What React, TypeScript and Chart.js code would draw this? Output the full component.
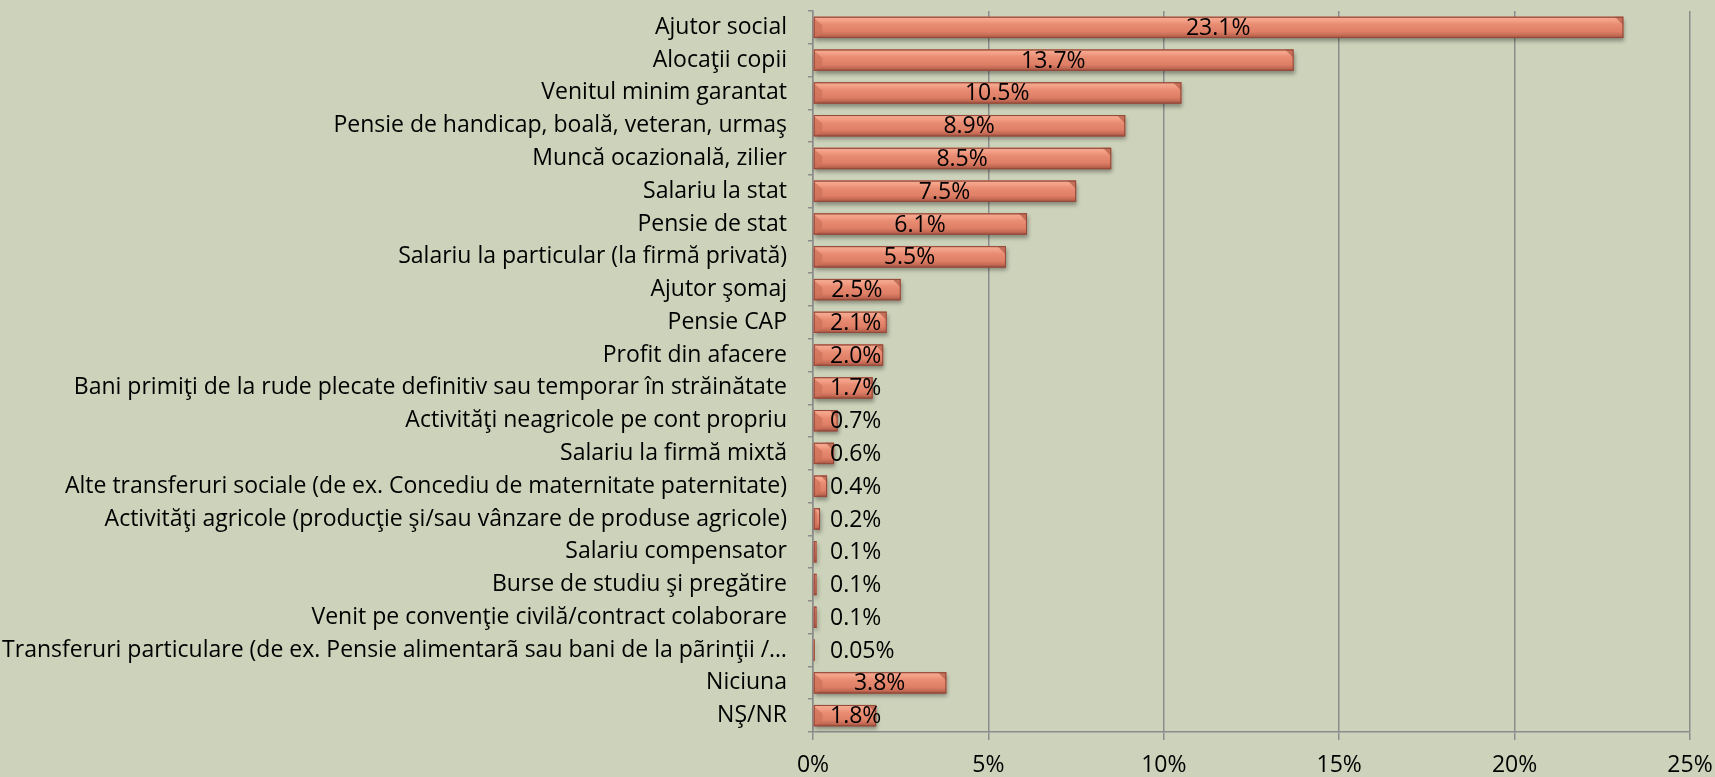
import React, { useEffect, useRef } from "react";
import { Chart, registerables } from "chart.js";

Chart.register(...registerables);

const categories: string[] = [
  "Ajutor social",
  "Alocaţii copii",
  "Venitul minim garantat",
  "Pensie de handicap, boală, veteran, urmaş",
  "Muncă ocazională, zilier",
  "Salariu la stat",
  "Pensie de stat",
  "Salariu la particular (la firmă privată)",
  "Ajutor şomaj",
  "Pensie CAP",
  "Profit din afacere",
  "Bani primiţi de la rude plecate definitiv sau temporar în străinătate",
  "Activităţi neagricole pe cont propriu",
  "Salariu la firmă mixtă",
  "Alte transferuri sociale (de ex. Concediu de maternitate paternitate)",
  "Activităţi agricole (producţie şi/sau vânzare de produse agricole)",
  "Salariu compensator",
  "Burse de studiu şi pregătire",
  "Venit pe convenţie civilă/contract colaborare",
  "Transferuri particulare (de ex. Pensie alimentarã sau bani de la pãrinţii /…",
  "Niciuna",
  "NŞ/NR",
];

const values: number[] = [
  23.1, 13.7, 10.5, 8.9, 8.5, 7.5, 6.1, 5.5, 2.5, 2.1, 2.0, 1.7, 0.7, 0.6, 0.4,
  0.2, 0.1, 0.1, 0.1, 0.05, 3.8, 1.8,
];

const valueLabels: string[] = [
  "23.1%", "13.7%", "10.5%", "8.9%", "8.5%", "7.5%", "6.1%", "5.5%", "2.5%",
  "2.1%", "2.0%", "1.7%", "0.7%", "0.6%", "0.4%", "0.2%", "0.1%", "0.1%",
  "0.1%", "0.05%", "3.8%", "1.8%",
];

const xMin = 0;
const xMax = 25;
const xStep = 5;

const FONT = '"Open Sans", "Noto Sans", sans-serif';
const FONT_SIZE = 23;
const BG = "#CDD2BA";
const GRID = "#8C8C8C";

const bevelPlugin = {
  id: "bevelBars",
  afterDatasetsDraw(chart: any) {
    const ctx = chart.ctx as CanvasRenderingContext2D;
    const meta = chart.getDatasetMeta(0);
    meta.data.forEach((bar: any) => {
      const p = bar.getProps(["x", "y", "base", "height"], true);
      const x0 = Math.min(p.base, p.x);
      const x1 = Math.max(p.base, p.x);
      const top = p.y - p.height / 2;
      const bottom = p.y + p.height / 2;
      const w = x1 - x0;
      const h = bottom - top;
      if (w <= 0) return;
      ctx.save();
      ctx.shadowColor = "rgba(0,0,0,0.35)";
      ctx.shadowBlur = 4;
      ctx.shadowOffsetX = 1;
      ctx.shadowOffsetY = 3;
      const g = ctx.createLinearGradient(0, top, 0, bottom);
      g.addColorStop(0, "#B8654F");
      g.addColorStop(0.07, "#F4A98F");
      g.addColorStop(0.2, "#F29E85");
      g.addColorStop(0.36, "#E88C72");
      g.addColorStop(0.7, "#DE7F66");
      g.addColorStop(0.86, "#C66B55");
      g.addColorStop(1, "#9C5140");
      ctx.fillStyle = g;
      ctx.fillRect(x0, top, w, h);
      ctx.shadowColor = "transparent";
      const b = Math.min(h * 0.4, w / 2);
      // left face
      ctx.fillStyle = "rgba(205,112,90,0.7)";
      ctx.beginPath();
      ctx.moveTo(x0, top + 1);
      ctx.lineTo(x0 + b, top + b);
      ctx.lineTo(x0 + b, bottom - b * 0.5);
      ctx.lineTo(x0, bottom);
      ctx.closePath();
      ctx.fill();
      // right face
      ctx.fillStyle = "rgba(165,78,58,0.6)";
      ctx.beginPath();
      ctx.moveTo(x1 - b, top);
      ctx.lineTo(x1, top);
      ctx.lineTo(x1, top + b);
      ctx.closePath();
      ctx.fill();
      ctx.strokeStyle = "#94493A";
      ctx.lineWidth = 1;
      ctx.strokeRect(x0 + 0.5, top + 0.5, Math.max(w - 1, 0), h - 1);
      ctx.restore();
    });
  },
};

const labelPlugin = {
  id: "valueLabels",
  afterDatasetsDraw(chart: any) {
    const ctx = chart.ctx as CanvasRenderingContext2D;
    const meta = chart.getDatasetMeta(0);
    const x0 = chart.scales.x.getPixelForValue(0);
    ctx.save();
    ctx.font = `${FONT_SIZE}px ${FONT}`;
    ctx.fillStyle = "#000";
    ctx.textAlign = "center";
    ctx.textBaseline = "middle";
    meta.data.forEach((bar: any, i: number) => {
      const p = bar.getProps(["x", "y"], true);
      const text = valueLabels[i];
      const tw = ctx.measureText(text).width;
      const cx = Math.max((x0 + p.x) / 2, x0 + 17 + tw / 2);
      ctx.fillText(text, cx, p.y + 1);
    });
    ctx.restore();
  },
};

export default function App() {
  const canvasRef = useRef<HTMLCanvasElement | null>(null);

  useEffect(() => {
    document.body.style.margin = "0";
    const canvas = canvasRef.current;
    if (!canvas) return;
    const chart = new Chart(canvas, {
      type: "bar",
      data: {
        labels: categories,
        datasets: [
          {
            data: values,
            backgroundColor: "#DF8068",
            borderColor: "#94493A",
            borderWidth: 0,
            barPercentage: 0.65,
            categoryPercentage: 1,
          },
        ],
      },
      options: {
        indexAxis: "y",
        animation: false,
        responsive: true,
        maintainAspectRatio: false,
        layout: { padding: { top: 11, right: 25, left: 0, bottom: 0 } },
        plugins: {
          legend: { display: false },
          tooltip: { enabled: false },
        },
        scales: {
          x: {
            type: "linear",
            min: xMin,
            max: xMax,
            afterFit: (scale: any) => {
              scale.height = 45;
              scale.paddingLeft = 0;
              scale.paddingRight = 0;
            },
            ticks: {
              stepSize: xStep,
              color: "#000",
              padding: 12,
              font: { family: FONT, size: FONT_SIZE },
              callback: (v: any) => `${v}%`,
            },
            grid: {
              color: GRID,
              lineWidth: 1.5,
              drawTicks: true,
              tickLength: 8,
              tickColor: GRID,
            },
            border: { display: true, color: GRID, width: 1.5 },
          },
          y: {
            type: "category",
            afterFit: (scale: any) => {
              scale.width = 813;
              scale.paddingTop = 0;
              scale.paddingBottom = 0;
            },
            ticks: {
              color: "#000",
              padding: 21,
              autoSkip: false,
              font: { family: FONT, size: FONT_SIZE },
            },
            grid: {
              drawOnChartArea: false,
              drawTicks: true,
              tickLength: 5,
              color: GRID,
              lineWidth: 1.5,
              offset: true,
            },
            border: { display: true, color: GRID, width: 1.5 },
          },
        },
      },
      plugins: [bevelPlugin, labelPlugin],
    });
    return () => chart.destroy();
  }, []);

  return (
    <div style={{ width: 1715, height: 777, background: BG, position: "relative" }}>
      <canvas ref={canvasRef} />
    </div>
  );
}
